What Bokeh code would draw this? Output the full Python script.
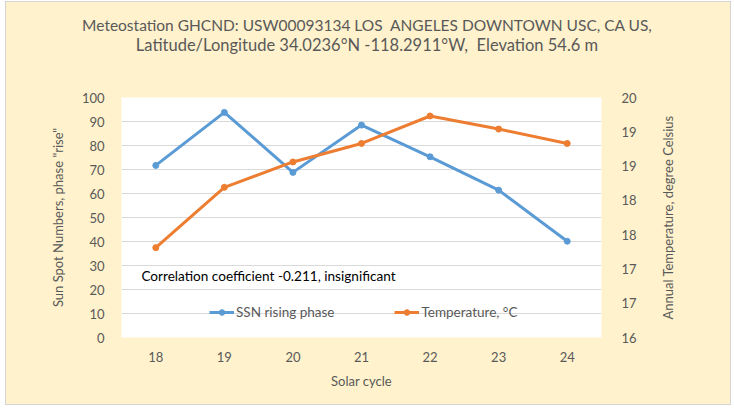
from bokeh.plotting import figure
from bokeh.layouts import column, row
from bokeh.models import (Range1d, LinearAxis, FixedTicker, CustomJSTickFormatter,
                          Label, Legend, LegendItem, Div)
from bokeh.embed import file_html
from bokeh.resources import INLINE

# ---- data ----
cycles = [18, 19, 20, 21, 22, 23, 24]
ssn_rise = [71.7, 93.8, 68.8, 88.5, 75.3, 61.4, 40.1]
temperature = [17.31, 18.19, 18.56, 18.83, 19.23, 19.04, 18.83]
left_ticks = [0, 10, 20, 30, 40, 50, 60, 70, 80, 90, 100]
right_ticks = [16, 16.5, 17, 17.5, 18, 18.5, 19, 19.5]
title1 = "Meteostation GHCND: USW00093134 LOS  ANGELES DOWNTOWN USC, CA US,"
title2 = "Latitude/Longitude 34.0236°N -118.2911°W,  Elevation 54.6 m"
note = "Correlation coefficient -0.211,  insignificant"
right_label = "Annual Temperature, degree Celsius"

FONT = "Lato"
GRAY = "#595959"
BLUE = "#5B9BD5"
ORANGE = "#ED7D31"
BEIGE = "#FFF2CC"

# ---- title ----
title_html = (
    f'<div style="width:724px;height:85px;box-sizing:border-box;padding-top:13px;'
    f'padding-right:2px;background:{BEIGE};font-family:Lato;color:{GRAY};'
    f'text-align:center;line-height:20px;">'
    f'<div style="font-size:15.5px;white-space:pre;">{title1}</div>'
    f'<div style="font-size:16.5px;white-space:pre;">{title2}</div></div>'
)
head = Div(text=title_html, width=724, height=85, margin=0,
           styles={"background-color": BEIGE})

# ---- main chart ----
p = figure(width=644, height=317, output_backend="svg", toolbar_location=None,
           x_range=Range1d(17.5, 24.5), y_range=Range1d(0, 100),
           min_border_left=115, min_border_right=49, min_border_top=10,
           min_border_bottom=67,
           border_fill_color=BEIGE, background_fill_color="white",
           outline_line_color=None)

p.extra_y_ranges = {"temp": Range1d(16, 19.5)}

p.xaxis.ticker = FixedTicker(ticks=cycles)
p.xaxis.axis_label = "Solar cycle"
p.yaxis.ticker = FixedTicker(ticks=left_ticks)
p.yaxis.axis_label = 'Sun Spot Numbers, phase "rise"'

raxis = LinearAxis(y_range_name="temp", ticker=FixedTicker(ticks=right_ticks),
                   formatter=CustomJSTickFormatter(code="return Math.round(tick).toFixed(0);"))
p.add_layout(raxis, "right")

for ax in [p.xaxis[0], p.yaxis[0], raxis]:
    ax.axis_line_color = None
    ax.major_tick_line_color = None
    ax.minor_tick_line_color = None
    ax.major_label_text_font = FONT
    ax.major_label_text_font_size = "13px"
    ax.major_label_text_color = GRAY
    ax.axis_label_text_font = FONT
    ax.axis_label_text_font_size = "13px"
    ax.axis_label_text_color = GRAY
    ax.axis_label_text_font_style = "normal"

p.xaxis.major_label_standoff = 8
p.xaxis.axis_label_standoff = 8
p.yaxis[0].major_label_standoff = 11
p.yaxis[0].axis_label_standoff = 13
raxis.major_label_standoff = 14

p.xgrid.grid_line_color = None
p.ygrid.ticker = FixedTicker(ticks=left_ticks)
p.ygrid.grid_line_color = "#d9d9d9"

l1 = p.line(cycles, ssn_rise, line_color=BLUE, line_width=3)
s1 = p.scatter(cycles, ssn_rise, size=6, fill_color=BLUE, line_color=BLUE)
l2 = p.line(cycles, temperature, line_color=ORANGE, line_width=3, y_range_name="temp")
s2 = p.scatter(cycles, temperature, size=6, fill_color=ORANGE, line_color=ORANGE,
               y_range_name="temp")

legend = Legend(items=[LegendItem(label="SSN rising phase", renderers=[l1, s1]),
                       LegendItem(label="Temperature, °C", renderers=[l2, s2])],
                orientation="horizontal", location=(88, 17),
                background_fill_alpha=0, border_line_alpha=0,
                label_text_font=FONT, label_text_font_size="13.5px",
                label_text_color=GRAY, glyph_width=25, glyph_height=14,
                label_height=14, label_standoff=2, spacing=60, padding=0, margin=0)
p.add_layout(legend, "center")

p.add_layout(Label(x=17.79, y=25.5, text=note, text_font=FONT, text_font_size="13.6px",
                   text_color="black", text_baseline="middle"))

# ---- strip carrying the right-hand axis title (reads bottom-to-top) ----
rf = figure(width=80, height=317, output_backend="svg", toolbar_location=None,
            x_range=Range1d(0, 1), y_range=Range1d(16, 19.5),
            min_border_left=25, min_border_right=0, min_border_top=10,
            min_border_bottom=67, border_fill_color=BEIGE,
            background_fill_color=BEIGE, outline_line_color=None)
rf.xaxis.visible = False
rf.grid.visible = False
ya = rf.yaxis[0]
ya.ticker = FixedTicker(ticks=[])
ya.axis_label = right_label
ya.axis_line_color = None
ya.major_tick_line_color = None
ya.minor_tick_line_color = None
ya.major_tick_out = 0
ya.major_label_standoff = 0
ya.axis_label_standoff = 0
ya.axis_label_text_font = FONT
ya.axis_label_text_font_size = "13px"
ya.axis_label_text_color = GRAY
ya.axis_label_text_font_style = "normal"

body = row(p, rf, spacing=0, styles={"background-color": BEIGE})
page = column(head, body, spacing=0, margin=(2, 4, 5, 6),
              styles={"outline": "1px solid #d4d4d4", "background-color": BEIGE})

open("out.html", "w").write(file_html(page, INLINE))
